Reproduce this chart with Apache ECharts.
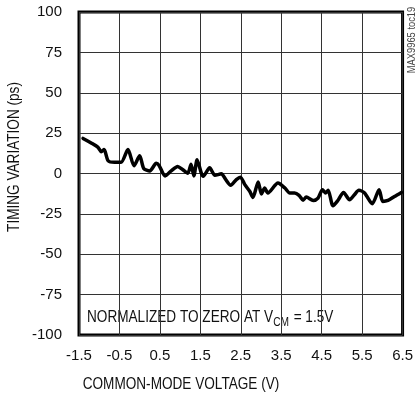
<!DOCTYPE html>
<html>
<head>
<meta charset="utf-8">
<script src="https://cdn.jsdelivr.net/npm/echarts@6/dist/echarts.min.js"></script>
<style>html,body{margin:0;padding:0;background:#fff}#c{width:416px;height:397px}</style>
</head>
<body>
<div id="c"></div>
<script>
// Common-mode voltage (V)
const voltage = [-1.40,-1.20,-1.03,-0.95,-0.88,-0.78,-0.62,-0.46,-0.29,-0.14,0.00,0.10,0.25,0.41,0.48,0.63,0.78,0.94,1.06,1.19,1.27,1.34,1.42,1.52,1.57,1.73,1.86,2.02,2.12,2.25,2.39,2.49,2.60,2.72,2.80,2.93,3.01,3.09,3.17,3.42,3.59,3.71,3.83,3.94,4.04,4.12,4.29,4.41,4.52,4.60,4.66,4.78,4.90,5.04,5.19,5.31,5.42,5.56,5.75,5.92,6.01,6.14,6.30,6.47];
// Timing variation (ps)
const timing = [21.7,18.9,16.2,13.5,14.8,7.9,6.9,6.9,14.8,4.8,11,3.1,1.6,6.3,5.0,-1.5,1.6,4.4,2.5,0.2,5.8,-1.5,8.5,0.6,-1.7,3.5,-1.1,-0.2,-3.5,-7.3,-3.8,-2.3,-6.9,-11,-14.8,-5.2,-12.7,-9,-12.1,-5.9,-9,-12.1,-12.1,-13.5,-16.5,-14.6,-16.7,-15.2,-10,-12.1,-10.4,-20,-16.7,-11.7,-16.3,-13.1,-10.4,-12.1,-18.8,-10,-17.3,-16.7,-14.2,-11.7];
const xTickLabels = ['-1.5','-0.5','0.5','1.5','2.5','3.5','4.5','5.5','6.5'];
const yTickLabels = ['-100','-75','-50','-25','0','25','50','75','100'];
const xOffset = 1.5; // axis runs 0..8, labels shifted to -1.5..6.5

const FONT = '"Liberation Sans Narrow","Liberation Sans",Arial,sans-serif';
const NARROW = 0.85;
const chart = echarts.init(document.getElementById('c'), null, {renderer: 'canvas'});
chart.setOption({
  animation: false,
  grid: {left: 79, right: 13, top: 12, bottom: 62, show: true, borderColor: '#000', borderWidth: 3, backgroundColor: 'transparent'},
  xAxis: {
    type: 'value', min: 0, max: 8, interval: 1,
    axisLine: {show: false}, axisTick: {show: false},
    splitLine: {show: true, lineStyle: {color: '#333', width: 1}},
    axisLabel: {color: '#111', fontFamily: FONT, fontSize: 15, margin: 13,
      formatter: v => xTickLabels[Math.round(v)]}
  },
  yAxis: {
    type: 'value', min: -100, max: 100, interval: 25,
    axisLine: {show: false}, axisTick: {show: false},
    splitLine: {show: true, lineStyle: {color: '#333', width: 1}},
    axisLabel: {color: '#111', fontFamily: FONT, fontSize: 15, margin: 17,
      formatter: v => yTickLabels[Math.round((v + 100) / 25)]}
  },
  graphic: [
    {type: 'text', x: 181, y: 385, scaleX: NARROW, style: {text: 'COMMON-MODE VOLTAGE (V)', fontFamily: FONT, fontSize: 16, fill: '#111', align: 'center', verticalAlign: 'middle'}},
    {type: 'text', x: 7, y: 157, rotation: Math.PI / 2, scaleX: NARROW, style: {text: 'TIMING VARIATION (ps)', fontFamily: FONT, fontSize: 16, fill: '#111', align: 'center', verticalAlign: 'top'}},
    {type: 'text', x: 406, y: 40, rotation: Math.PI / 2, scaleX: NARROW, style: {text: 'MAX9965 toc19', fontFamily: FONT, fontSize: 11, fill: '#444', align: 'center', verticalAlign: 'top'}},
    {type: 'text', x: 87, y: 318, scaleX: NARROW, style: {
      text: '{n|NORMALIZED TO ZERO AT V}{s|CM}{n| = 1.5V}',
      verticalAlign: 'middle',
      rich: {
        n: {fontFamily: FONT, fontSize: 16, fill: '#111'},
        s: {fontFamily: FONT, fontSize: 12, fill: '#111', padding: [9, 1, 0, 0]}
      }
    }}
  ],
  series: [{
    type: 'line', showSymbol: false, smooth: 0.25,
    lineStyle: {color: '#000', width: 3.5, join: 'round', cap: 'round'},
    data: voltage.map((v, i) => [v + xOffset, timing[i]])
  }]
});
</script>
</body>
</html>
